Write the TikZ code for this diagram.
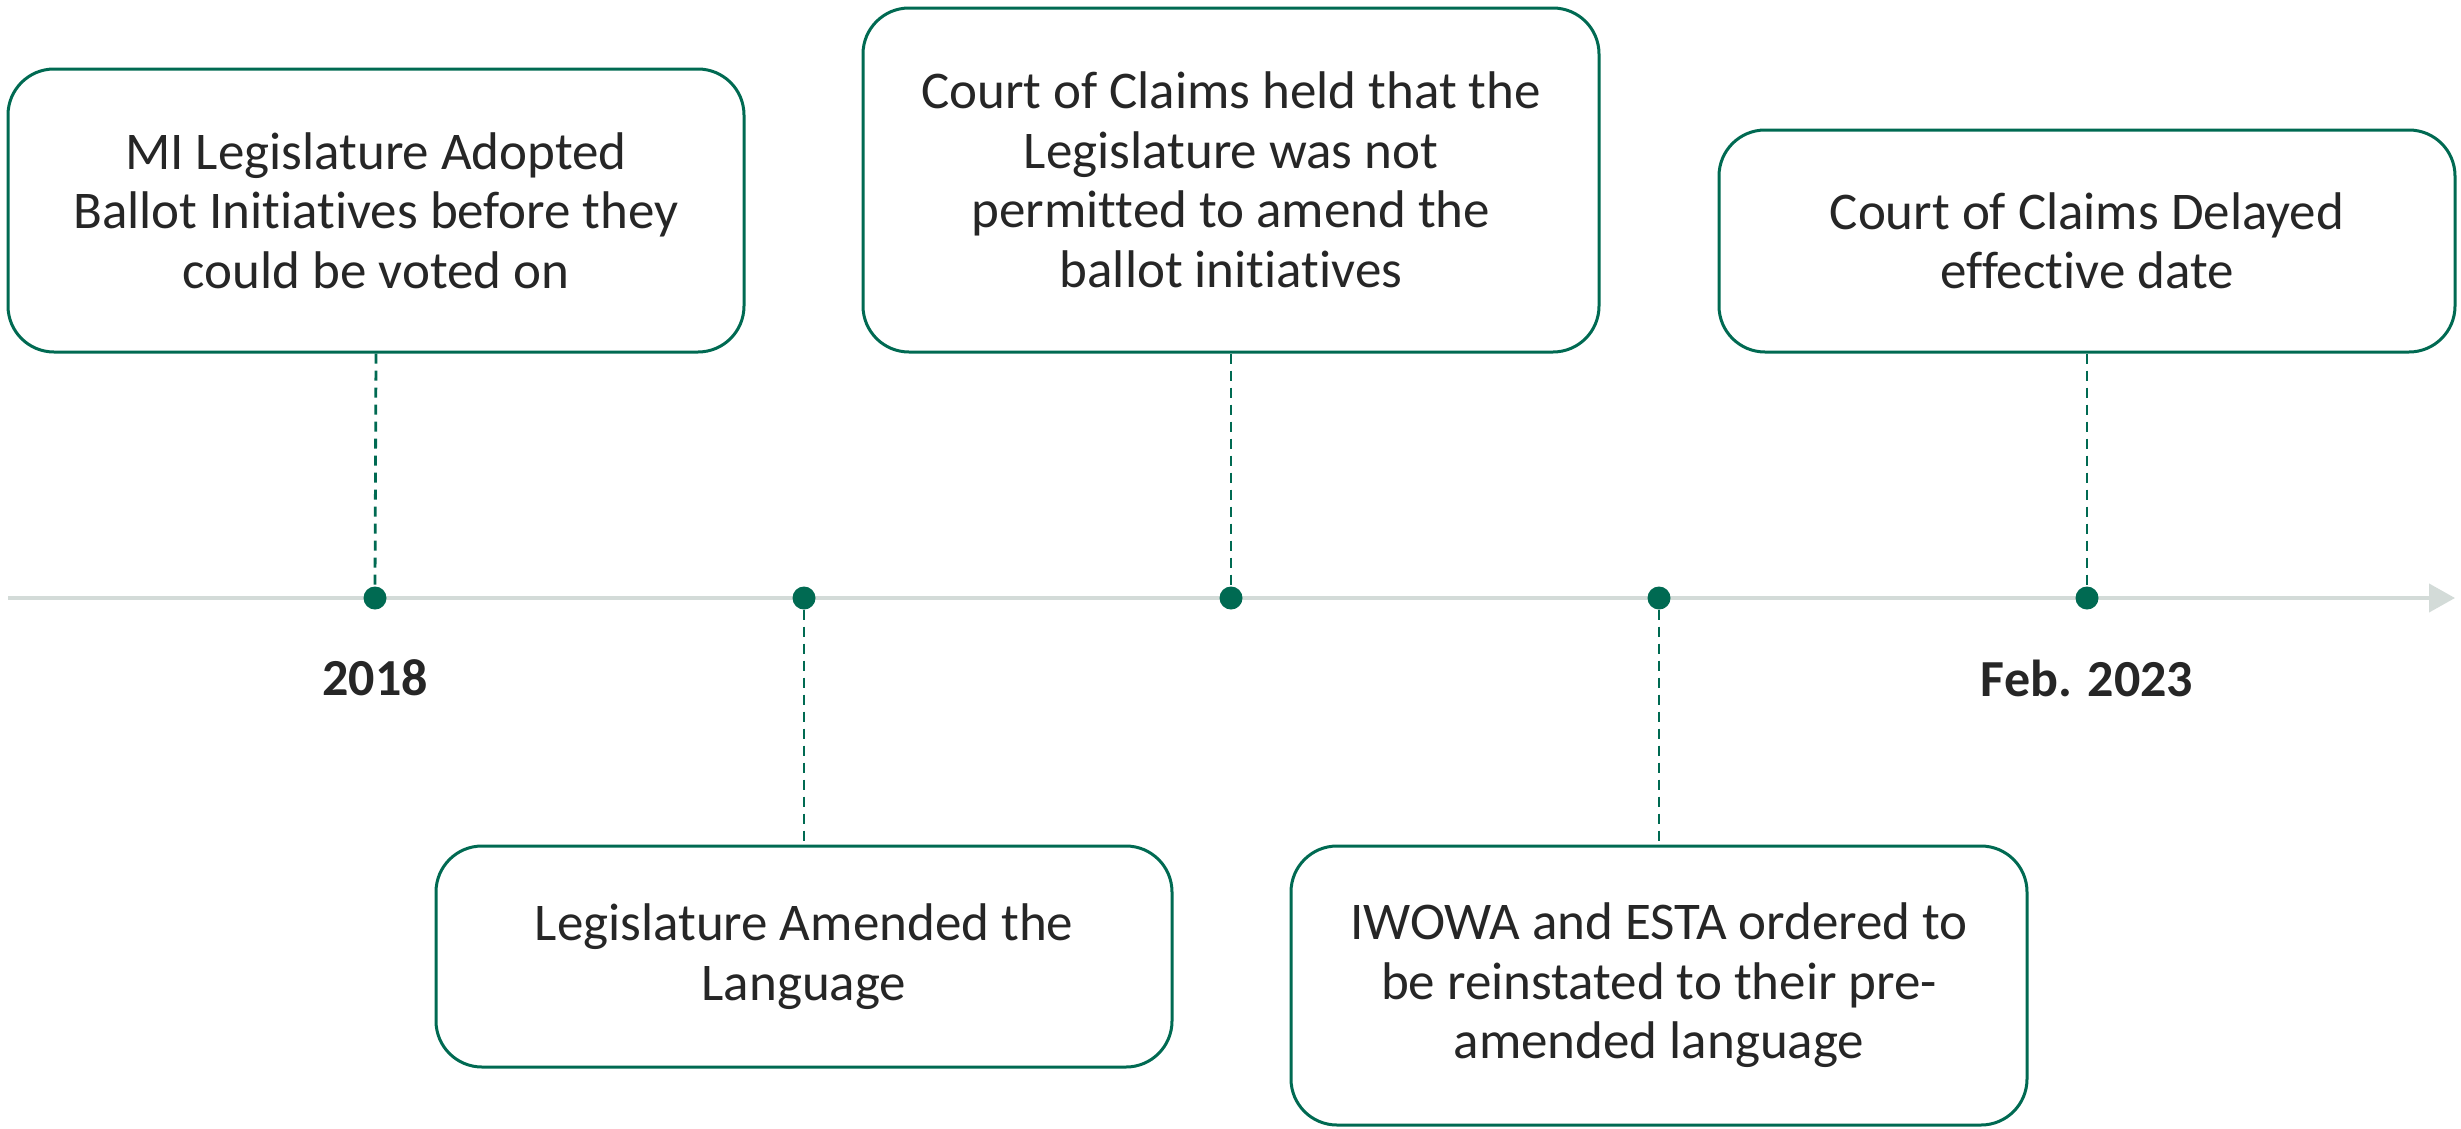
\documentclass[tikz,border=0pt]{standalone}
\usepackage{fontspec}
\setmainfont{Carlito}[Ligatures=NoCommon]
\usetikzlibrary{arrows.meta}
\definecolor{tlgreen}{HTML}{006A52}
\definecolor{tlgray}{HTML}{D3DBD8}
\definecolor{tltext}{HTML}{262626}
\begin{document}
\begin{tikzpicture}[x=1pt,y=-1pt,
  eventbox/.style={draw=tlgreen, line width=3pt, rounded corners=46pt, fill=white,
    minimum width=736pt, align=center, text=tltext, inner sep=0pt,
    font=\fontsize{53}{59.5}\selectfont},
  dot/.style={circle, fill=tlgreen, minimum size=23pt, inner sep=0pt},
  link/.style={draw=tlgreen, line width=2.8pt, dash pattern=on 10pt off 7pt},
  yearlabel/.style={text=tltext, font=\fontsize{52}{60}\selectfont\bfseries}]
\useasboundingbox (0,0) rectangle (2461,1128);
\fill[white] (0,0) rectangle (2461,1128);
% timeline
\coordinate (tlstart) at (8,598);
\coordinate (tlend) at (2455,598);
\draw[tlgray, line width=4pt, -{Triangle[length=26pt,width=28pt]}] (tlstart) -- (tlend);
% dots
\node[dot] (d1) at (375,598) {};
\node[dot] (d2) at (804,598) {};
\node[dot] (d3) at (1231,598) {};
\node[dot] (d4) at (1659,598) {};
\node[dot] (d5) at (2087,598) {};
% boxes
\node[eventbox, minimum height=283pt] (b1) at (376,210.5)
  {MI Legislature Adopted\\Ballot Initiatives before they\\could be voted on};
\node[eventbox, minimum height=221pt] (b2) at (804,956.5)
  {Legislature Amended the\\Language};
\node[eventbox, minimum height=344pt] (b3) at (1231,180)
  {Court of Claims held that the\\Legislature was not\\permitted to amend the\\ballot initiatives};
\node[eventbox, minimum height=279pt] (b4) at (1659,985.5)
  {IWOWA and ESTA ordered to\\be reinstated to their pre-\\amended language};
\node[eventbox, minimum height=222pt] (b5) at (2087,241)
  {Court of Claims Delayed\\effective date};
% connectors
\draw[link] (b1.south) -- (d1.north);
\draw[link] (d2.south) -- (b2.north);
\draw[link] (b3.south) -- (d3.north);
\draw[link] (d4.south) -- (b4.north);
\draw[link] (b5.south) -- (d5.north);
% labels
\node[yearlabel] (y1) at (375,678) {2018};
\node[yearlabel] (y2) at (2087,678) {Feb. 2023};
\end{tikzpicture}
\end{document}
